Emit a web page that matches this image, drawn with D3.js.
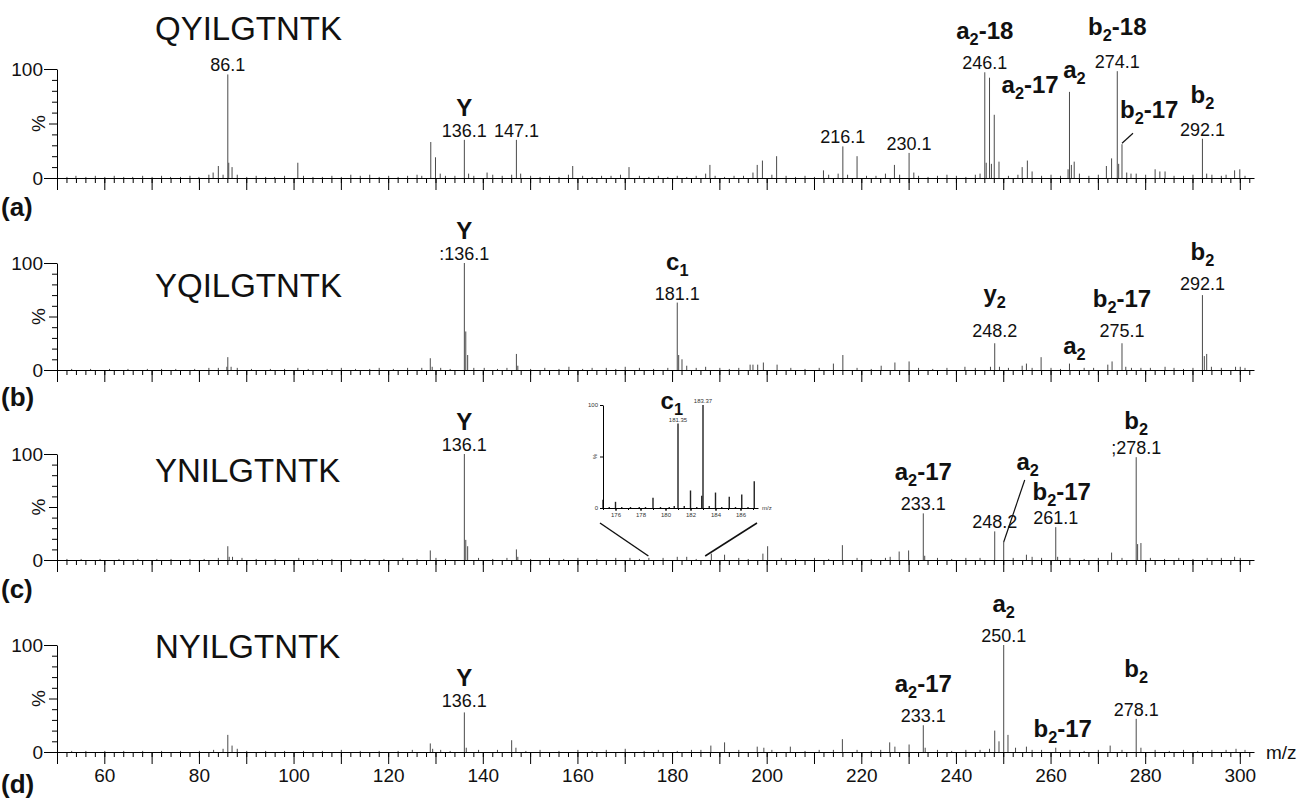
<!DOCTYPE html>
<html>
<head>
<meta charset="utf-8">
<script src="https://cdn.jsdelivr.net/npm/d3@7"></script>
<style>
  body { margin: 0; background: #fff; }
  svg { display: block; font-family: "Liberation Sans", Arial, sans-serif; }
</style>
</head>
<body>
<svg id="chart" width="1303" height="800"></svg>
<script>
// ---- data ----
const peptides = ["QYILGTNTK", "YQILGTNTK", "YNILGTNTK", "NYILGTNTK"];
const panelTags = ["(a)", "(b)", "(c)", "(d)"];
const mzTicks = [60, 80, 100, 120, 140, 160, 180, 200, 220, 240, 260, 280, 300];

// [m/z, relative intensity %]
const peaksA = [[83.0,5],[84.1,11],[86.1,95],[86.3,14],[87.0,10],[100.9,14],[129.0,33],[130.0,19],[131.0,4],
  [136.1,35],[137.0,4],[140.9,5],[147.1,35],[148.0,4],[159.0,11],[170.9,10],[188.0,12],[198.0,12],[199.1,16],
  [202.1,20],[212.0,7],[216.1,29],[219.1,20],[227.0,12],[230.1,23],[231.1,5],[246.1,97],[246.4,14],[247.1,92],
  [247.5,13],[248.1,58],[249.1,15],[254.0,10],[255.1,16],[256.1,6],[263.7,8],[264.0,79],[264.4,12],[265.0,15],
  [271.8,11],[272.9,18],[274.1,98],[274.4,13],[275.1,31],[276.1,5],[277.0,4],[282.1,8],[283.1,6],[284.2,6],
  [292.1,36],[293.0,4],[298.9,7],[300.0,8]];
const noiseA = [[52.1,1],[54.0,2],[56.1,1],[58.1,2],[60.1,1],[62.1,2],[64.1,1],[66.0,1],[68.1,2],[70.1,1],[72.1,2],
  [74.0,1],[76.1,1],[78.1,2],[80.0,1],[82.1,3],[85.1,3],[88.1,3],[90.1,1],[92.1,2],[94.1,1],[96.0,1],[98.1,2],
  [102.1,2],[104.1,1],[106.1,1],[108.1,2],[110.1,1],[112.1,3],[114.1,2],[116.1,3],[118.1,1],[120.1,2],[122.1,1],
  [124.1,2],[126.1,3],[127.1,2],[132.1,2],[134.1,2],[138.1,2],[142.1,3],[144.1,2],[146.1,3],[150.1,2],[152.1,1],
  [154.1,2],[156.1,1],[158.1,3],[161.1,2],[163.1,1],[165.1,2],[167.1,2],[169.1,3],[173.1,2],[175.1,1],[177.1,2],
  [179.1,1],[181.1,2],[183.1,1],[185.1,2],[187.1,4],[189.1,2],[191.1,1],[193.1,2],[195.1,2],[197.1,5],[201.1,3],
  [204.1,2],[206.1,1],[208.1,2],[210.1,1],[213.1,3],[215.1,4],[217.1,3],[221.1,2],[223.1,2],[225.1,4],[228.1,3],
  [232.1,2],[234.1,1],[236.1,2],[238.1,3],[240.1,2],[242.1,1],[244.1,3],[245.1,4],[251.1,2],[253.1,3],[258.1,2],
  [260.1,3],[262.1,2],[266.1,4],[268.1,2],[270.1,3],[278.1,4],[280.1,3],[286.1,2],[288.1,2],[290.1,3],[294.1,3],
  [296.1,2],[297.1,3],[301.1,2]];

const peaksB = [[85.9,3],[86.1,12],[86.8,3],[100.9,2],[118.1,2],[128.9,11],[129.3,3],[136.1,100],[136.4,36],
  [136.8,14],[140.3,2],[147.1,15],[147.4,4],[158.2,3],[163.1,2],[170.1,3],[181.1,63],[181.4,14],[182.1,10],
  [183.1,4],[187.1,3],[196.5,5],[197.1,5],[198.1,5],[199.3,7],[202.2,5],[214.1,6],[216.1,14],[224.2,4],[227.1,7],
  [230.1,8],[241.9,3],[247.3,3],[248.2,25],[249.2,3],[254.0,4],[254.9,6],[258.0,12],[264.0,6],[272.1,5],[273.0,8],
  [275.1,25],[275.9,3],[284.2,3],[292.1,70],[292.5,13],[293.0,15],[294.0,3],[299.1,3],[300.1,3]];
const noiseB = [[53.1,1],[57.1,1],[61.1,1],[65.0,1],[69.1,1],[72.1,1],[75.1,1],[79.1,1],[82.1,2],[84.1,2],[88.1,2],
  [91.1,1],[95.1,1],[98.1,1],[103.1,1],[107.1,1],[110.1,2],[113.1,1],[116.1,1],[121.1,1],[124.1,2],[127.1,2],
  [131.1,2],[133.1,1],[138.1,2],[143.1,1],[145.1,2],[150.1,1],[153.1,2],[156.1,1],[161.1,1],[166.1,2],[168.1,1],
  [173.1,2],[176.1,1],[179.1,2],[185.1,2],[190.1,2],[192.1,1],[194.1,2],[205.1,2],[208.1,1],[211.1,2],[219.1,2],
  [222.1,1],[232.1,2],[235.1,1],[238.1,2],[244.1,2],[251.1,2],[256.1,2],[260.1,2],[262.1,1],[267.1,2],[269.1,2],
  [277.1,2],[279.1,2],[281.1,2],[286.1,2],[288.1,1],[290.1,2],[296.1,2],[301.1,2]];

const peaksC = [[86.1,13],[86.4,3],[87.1,3],[128.9,9],[136.1,100],[136.4,19],[136.8,13],[147.1,10],[147.4,3],
  [171.1,2],[175.1,2],[181.1,3],[183.1,3],[188.3,6],[191.1,5],[199.2,6],[200.2,13],[216.0,14],[228.0,8],[230.0,9],
  [233.1,44],[233.4,4],[248.2,27],[250.1,17],[254.9,5],[261.1,31],[261.5,3],[272.9,7],[278.1,97],[278.4,15],
  [279.1,16],[298.9,3]];
const noiseC = [[52.1,1],[55.1,1],[59.1,1],[63.1,1],[67.1,1],[71.1,1],[74.1,1],[78.1,1],[81.1,1],[84.1,2],[89.1,2],
  [92.1,1],[96.1,1],[101.1,2],[105.1,1],[108.1,1],[112.1,1],[115.1,1],[119.1,1],[123.1,2],[126.1,1],[130.1,2],
  [132.1,1],[139.1,2],[142.1,1],[145.1,2],[150.1,1],[154.1,2],[157.1,1],[160.1,2],[164.1,1],[168.1,2],[173.1,1],
  [178.1,2],[185.1,1],[194.1,2],[196.1,1],[203.1,2],[206.1,1],[210.1,2],[213.1,1],[219.1,2],[222.1,1],[225.1,2],
  [226.1,3],[236.1,2],[239.1,1],[242.1,2],[245.1,2],[252.1,2],[256.1,3],[258.1,2],[264.1,2],[267.1,1],[270.1,2],
  [275.1,2],[281.1,2],[284.1,1],[287.1,2],[290.1,1],[293.1,2],[296.1,2],[300.1,2]];

const peaksD = [[85.1,3],[86.1,16],[87.0,6],[88.1,3],[128.9,8],[129.4,3],[136.1,37],[136.5,4],[146.1,11],[147.0,4],
  [170.1,3],[188.2,6],[191.1,9],[198.0,5],[199.4,4],[205.0,5],[216.0,12],[226.0,9],[227.1,5],[230.1,7],[233.1,25],
  [233.5,4],[248.2,20],[249.1,10],[250.1,100],[251.0,16],[252.6,4],[254.9,5],[261.1,4],[272.6,6],[278.1,31],
  [279.1,4],[299.2,3]];
const noiseD = [[53.1,1],[56.1,1],[60.1,1],[64.1,1],[68.1,1],[72.1,1],[76.1,1],[80.1,1],[83.1,2],[90.1,1],[94.1,1],
  [98.1,1],[102.1,1],[106.1,1],[110.1,2],[114.1,1],[118.1,1],[122.1,1],[125.1,2],[131.1,2],[133.1,1],[139.1,2],
  [143.1,2],[149.1,1],[152.1,2],[156.1,1],[160.1,2],[163.1,1],[166.1,2],[174.1,1],[177.1,2],[181.1,1],[184.1,2],
  [186.1,2],[194.1,2],[201.1,2],[208.1,1],[211.1,2],[214.1,2],[219.1,2],[222.1,1],[224.1,2],[236.1,2],[239.1,1],
  [242.1,2],[245.1,2],[247.1,3],[256.1,2],[258.1,2],[264.1,2],[267.1,1],[270.1,2],[275.1,2],[282.1,2],[285.1,1],
  [288.1,2],[291.1,1],[294.1,2],[297.1,2],[301.1,2]];

// labels: m/z of the peak, number text, ion name as [letter, subscript, suffix]
const labelsA = [
  {mz: 86.1, num: "86.1"}, {mz: 136.1, num: "136.1", ion: ["Y"]}, {mz: 147.1, num: "147.1"},
  {mz: 216.1, num: "216.1"}, {mz: 230.1, num: "230.1"}, {mz: 246.1, num: "246.1", ion: ["a", "2", "-18"]},
  {mz: 247.1, ion: ["a", "2", "-17"]}, {mz: 264.0, ion: ["a", "2"]}, {mz: 274.1, num: "274.1", ion: ["b", "2", "-18"]},
  {mz: 275.1, ion: ["b", "2", "-17"]}, {mz: 292.1, num: "292.1", ion: ["b", "2"]}];
const labelsB = [
  {mz: 136.1, num: ":136.1", ion: ["Y"]}, {mz: 181.1, num: "181.1", ion: ["c", "1"]},
  {mz: 248.2, num: "248.2", ion: ["y", "2"]}, {mz: 264.0, ion: ["a", "2"]},
  {mz: 275.1, num: "275.1", ion: ["b", "2", "-17"]}, {mz: 292.1, num: "292.1", ion: ["b", "2"]}];
const labelsC = [
  {mz: 136.1, num: "136.1", ion: ["Y"]}, {mz: 233.1, num: "233.1", ion: ["a", "2", "-17"]},
  {mz: 248.2, num: "248.2"}, {mz: 250.1, ion: ["a", "2"]}, {mz: 261.1, num: "261.1", ion: ["b", "2", "-17"]},
  {mz: 278.1, num: ";278.1", ion: ["b", "2"]}];
const labelsD = [
  {mz: 136.1, num: "136.1", ion: ["Y"]}, {mz: 233.1, num: "233.1", ion: ["a", "2", "-17"]},
  {mz: 250.1, num: "250.1", ion: ["a", "2"]}, {mz: 261.1, ion: ["b", "2", "-17"]},
  {mz: 278.1, num: "278.1", ion: ["b", "2"]}];

// zoomed inset of panel (c), m/z 175-187
const insetPeaks = [[175.0,8],[175.5,1],[176.0,6],[176.5,1],[177.2,1],[177.9,1],[178.4,1],[179.0,10],[179.6,1],
  [180.3,1],[180.7,2],[181.0,82],[181.5,2],[182.0,17],[182.5,1],[182.9,12],[183.0,100],[183.5,2],[184.0,15],
  [184.5,1],[185.1,11],[185.6,1],[186.1,13],[186.6,1],[187.1,26]];
const insetLabels = [{mz: 181.0, num: "181.35"}, {mz: 183.0, num: "183.37"}];
const insetTicks = [176, 178, 180, 182, 184, 186];

const panelPeaks = [peaksA.concat(noiseA), peaksB.concat(noiseB), peaksC.concat(noiseC), peaksD.concat(noiseD)];
const panelLabels = [labelsA, labelsB, labelsC, labelsD];

// ---- layout ----
const left = 57, right = 1254;
const bases = [178, 370, 560, 752];
const tops = [69, 263, 454, 645];
const titleY = [40, 297, 482, 658];
const tagY = [216, 406, 598, 793];

// per-label placement tweaks (panel:mz)
const tweaks = {
  "0:247.1": {dx: 12, anchor: "start", ionDy: 19},
  "0:264": {dx: 5, ionDy: -10},
  "0:274.1": {ionDy: -3},
  "0:275.1": {dx: -2, anchor: "start", ionDy: -22, leader: [0, -1, 11, -11]},
  "0:292.1": {ionDy: -3},
  "1:248.2": {numDy: -3, ionDy: -5},
  "1:264": {dx: 5, ionDy: -6},
  "1:275.1": {numDy: -3},
  "1:292.1": {numDy: -2},
  "2:250.1": {dx: 24, ionDy: -68, leader: [0, 0, 21, -62]},
  "2:261.1": {dx: 6, ionDy: 6},
  "2:278.1": {ionDy: 5},
  "3:136.1": {numDy: -2},
  "3:261.1": {dx: 7, ionDy: -7},
  "3:278.1": {ionDy: -9}
};

const svg = d3.select("#chart");
const x = d3.scaleLinear().domain([50, 303]).range([left, right]);

function ionText(sel, ion, size) {
  sel.append("tspan").text(ion[0]);
  if (ion.length > 1) {
    sel.append("tspan").attr("font-size", size * 0.68).attr("dy", 6).text(ion[1]);
    if (ion[2]) sel.append("tspan").attr("dy", -6).text(ion[2]);
  }
}

peptides.forEach((pep, i) => {
  const y = d3.scaleLinear().domain([0, 100]).range([bases[i], tops[i]]);
  const g = svg.append("g");

  // peaks
  g.append("g").selectAll("line")
    .data(panelPeaks[i])
    .join("line")
    .attr("x1", d => x(d[0])).attr("x2", d => x(d[0]))
    .attr("y1", y(0)).attr("y2", d => y(d[1]))
    .attr("stroke", "#4a4a4a").attr("stroke-width", 1);

  // x axis: minor, major
  const minor = d3.range(50, 303, 2);
  g.append("g").attr("transform", `translate(0,${bases[i]})`)
    .call(d3.axisBottom(x).tickValues(minor).tickSize(5).tickSizeOuter(0).tickFormat(""))
    .call(a => a.select(".domain").remove());
  const last = i === 3;
  g.append("g").attr("transform", `translate(0,${bases[i]})`)
    .call(d3.axisBottom(x).tickValues(d3.range(50, 301, 10)).tickSize(12).tickSizeOuter(0).tickPadding(5)
      .tickFormat(d => last && mzTicks.includes(d) ? d : ""))
    .call(a => a.selectAll("text").attr("font-size", 19).attr("font-family", "Liberation Sans, Arial, sans-serif").attr("fill", "#111"));

  // y axis
  g.append("g").attr("transform", `translate(${left},0)`)
    .call(d3.axisLeft(y).tickValues(d3.range(10, 100, 10).filter(v => v !== 50)).tickSize(5).tickSizeOuter(0).tickFormat(""))
    .call(a => a.select(".domain").remove());
  g.append("g").attr("transform", `translate(${left},0)`)
    .call(d3.axisLeft(y).tickValues([50]).tickSize(8).tickSizeOuter(0).tickFormat(""))
    .call(a => a.select(".domain").remove());
  g.append("g").attr("transform", `translate(${left},0)`)
    .call(d3.axisLeft(y).tickValues([0, 100]).tickSize(13).tickSizeOuter(0).tickPadding(1))
    .call(a => a.selectAll("text").attr("font-size", 19).attr("font-family", "Liberation Sans, Arial, sans-serif").attr("fill", "#111"));

  g.append("text")
    .attr("transform", `translate(38,${y(50)}) rotate(-90)`)
    .attr("text-anchor", "middle").attr("dominant-baseline", "central")
    .attr("font-size", 19).attr("fill", "#111").text("%");

  // peptide title and panel tag
  g.append("text").attr("x", 155).attr("y", titleY[i])
    .attr("font-size", 33).attr("fill", "#111").text(pep);
  g.append("text").attr("x", 1).attr("y", tagY[i])
    .attr("font-size", 26).attr("font-weight", "bold").attr("fill", "#111").text(panelTags[i]);

  // peak labels
  panelLabels[i].forEach(l => {
    const t = tweaks[`${i}:${l.mz}`] || {};
    const peak = panelPeaks[i].find(p => p[0] === l.mz);
    const px = x(l.mz), top = y(peak[1]);
    const ny = top - 3 + (t.numDy || 0);
    if (l.num) {
      g.append("text").attr("x", px).attr("y", ny)
        .attr("text-anchor", "middle").attr("font-size", 18).attr("fill", "#111").text(l.num);
    }
    if (l.ion) {
      const gap = l.ion.length > 1 ? 30 : 21;
      const iy = (l.num ? ny - gap : top - 4) + (t.ionDy || 0);
      const txt = g.append("text").attr("x", px + (t.dx || 0)).attr("y", iy)
        .attr("text-anchor", t.anchor || "middle").attr("font-size", 24)
        .attr("font-weight", "bold").attr("fill", "#111");
      ionText(txt, l.ion, 24);
    }
    if (t.leader) {
      g.append("line")
        .attr("x1", px + t.leader[0]).attr("y1", top + t.leader[1])
        .attr("x2", px + t.leader[2]).attr("y2", top + t.leader[3])
        .attr("stroke", "#111").attr("stroke-width", 1.2);
    }
  });

  if (last) {
    g.append("text").attr("x", 1266).attr("y", bases[i]).attr("dominant-baseline", "central")
      .attr("font-size", 19).attr("fill", "#111").text("m/z");
  }
});

// ---- inset in panel (c) ----
const ix = d3.scaleLinear().domain([175, 187.4]).range([603, 758]);
const iy = d3.scaleLinear().domain([0, 100]).range([508, 405]);
const ins = svg.append("g");
ins.append("g").selectAll("line")
  .data(insetPeaks)
  .join("line")
  .attr("x1", d => ix(d[0])).attr("x2", d => ix(d[0]))
  .attr("y1", iy(0)).attr("y2", d => iy(d[1]))
  .attr("stroke", "#222").attr("stroke-width", 1.4);
ins.append("g").attr("transform", `translate(0,${iy(0)})`)
  .call(d3.axisBottom(ix).tickValues(d3.range(175, 188, 1)).tickSize(2).tickSizeOuter(0).tickFormat(""));
ins.append("g").attr("transform", `translate(0,${iy(0)})`)
  .call(d3.axisBottom(ix).tickValues(insetTicks).tickSize(3).tickSizeOuter(0).tickPadding(2))
  .call(a => a.select(".domain").remove())
  .call(a => a.selectAll("text").attr("font-size", 6).attr("fill", "#333"));
ins.append("g").attr("transform", `translate(${ix.range()[0]},0)`)
  .call(d3.axisLeft(iy).tickValues([0, 50, 100]).tickSize(3).tickSizeOuter(0).tickPadding(2)
    .tickFormat(d => d === 50 ? "" : d))
  .call(a => a.selectAll("text").attr("font-size", 6).attr("fill", "#333"));
ins.append("text").attr("transform", `translate(597,${iy(50)}) rotate(-90)`)
  .attr("text-anchor", "middle").attr("font-size", 6).attr("fill", "#333").text("%");
ins.append("text").attr("x", ix.range()[1] + 4).attr("y", iy(0) + 2)
  .attr("font-size", 6).attr("fill", "#333").text("m/z");
insetLabels.forEach(l => {
  const p = insetPeaks.find(d => d[0] === l.mz);
  ins.append("text").attr("x", ix(l.mz)).attr("y", iy(p[1]) - 2)
    .attr("text-anchor", "middle").attr("font-size", 6).attr("fill", "#333").text(l.num);
});
const c1 = ins.append("text").attr("x", ix(180.5)).attr("y", 409)
  .attr("text-anchor", "middle").attr("font-size", 24).attr("font-weight", "bold").attr("fill", "#111");
ionText(c1, ["c", "1"], 24);

// zoom lines from the inset down to the m/z range on the main axis
const zoomLines = [[ix(175) - 3, x(175)], [ix(187.4) - 1, x(187)]];
ins.selectAll("line.zoom")
  .data(zoomLines)
  .join("line")
  .attr("class", "zoom")
  .attr("x1", d => d[0]).attr("y1", iy(0) + 15)
  .attr("x2", d => d[1]).attr("y2", bases[2] - 4)
  .attr("stroke", "#111").attr("stroke-width", 1.5);
</script>
</body>
</html>
